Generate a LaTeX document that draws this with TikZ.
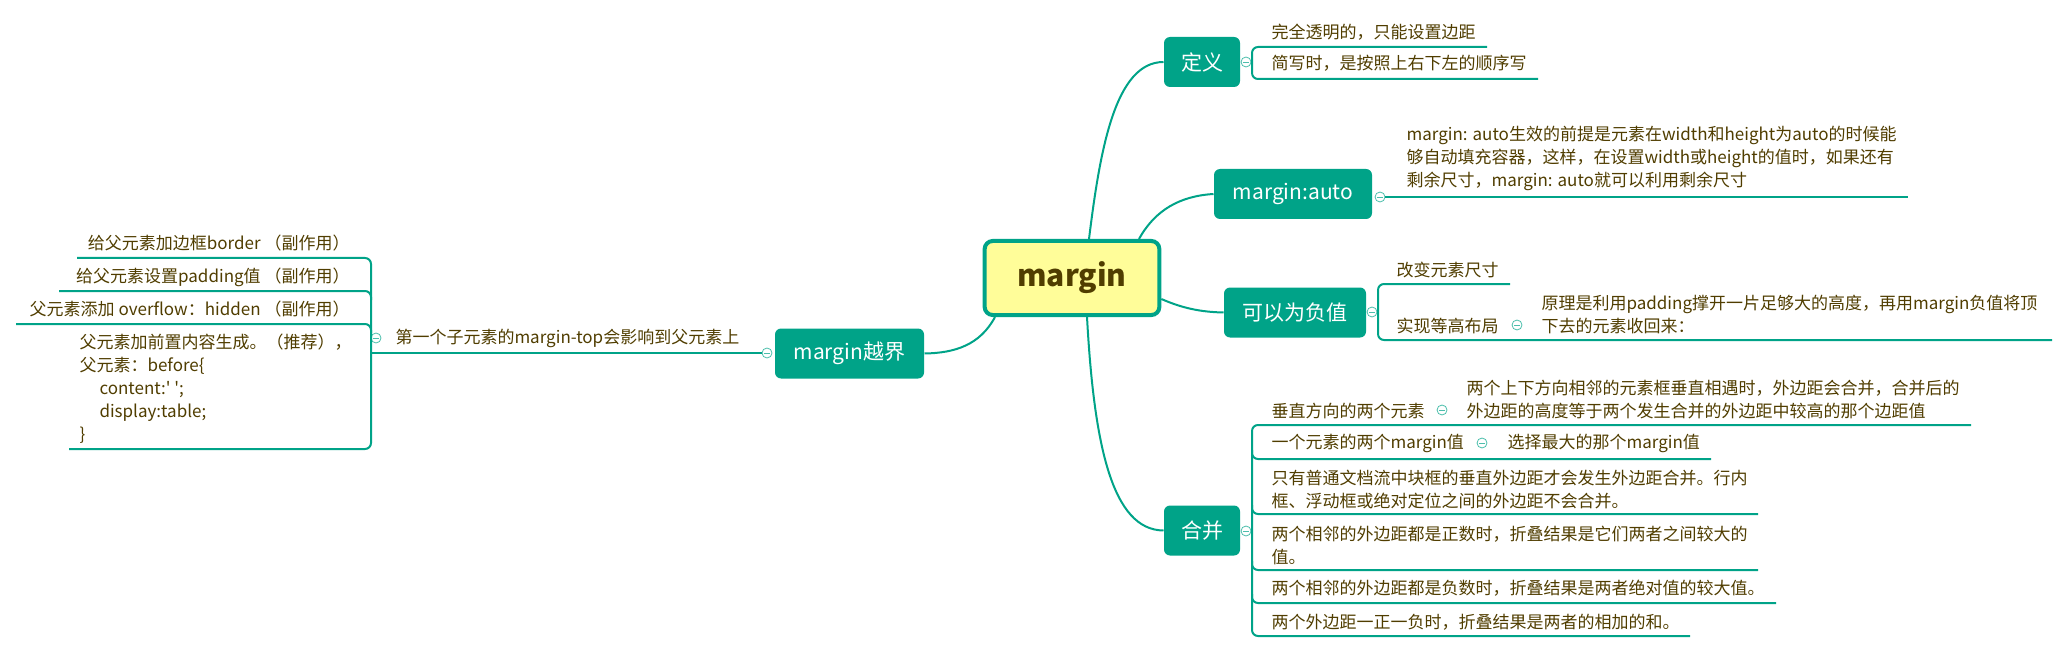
\documentclass[tikz,border=0pt]{standalone}
\usepackage{fontspec}
\setmainfont{Noto Sans CJK SC}

\definecolor{xmteal}{RGB}{0,163,136}
\definecolor{xmtext}{RGB}{80,61,0}
\definecolor{xmyellow}{RGB}{255,253,153}

\tikzset{every picture/.style={line width=0.75pt}}
\tikzset{
  topic/.style={fill=xmteal, text=white, rounded corners=4.5pt, minimum height=37.5pt, inner sep=0pt,
    font=\fontsize{15.75pt}{18pt}\selectfont},
  leaf/.style={text=xmtext, inner sep=0pt, align=left, font=\fontsize{12.75pt}{17.25pt}\selectfont},
  link/.style={draw=xmteal, line width=1.5pt},
  fold/.style={circle, draw=xmteal!70, fill=white, line width=0.6pt, minimum size=7.5pt, inner sep=0pt,
    path picture={\draw[xmteal!70, line width=0.6pt] ([xshift=-2.2pt]path picture bounding box.center) -- ([xshift=2.2pt]path picture bounding box.center);}},
}

\begin{document}
\begin{tikzpicture}[x=0.75pt,y=0.75pt,yscale=-1,xscale=1]
\useasboundingbox (0,0) rectangle (2069,652);

%Shape: central topic
\node[draw=xmteal, line width=3pt, fill=xmyellow, rounded corners=6pt, minimum width=131pt, minimum height=55.5pt,
  text=xmtext, font=\fontsize{22.5pt}{26pt}\selectfont\bfseries] (root) at (1072,278) {margin};

%Shape: main topics
\node[topic, minimum width=57pt] (def) at (1202,62) {定义};
\node[topic, minimum width=118.5pt] (auto) at (1293,194) {margin:auto};
\node[topic, minimum width=106.5pt] (neg) at (1295,312.5) {可以为负值};
\node[topic, minimum width=57pt] (merge) at (1202,530.5) {合并};
\node[topic, minimum width=111.75pt] (over) at (849.5,353.5) {margin越界};

%Curve Lines
\draw[link] (root.north -| 1089,0) .. controls (1100,150) and (1115,62) .. (def.west);
\draw[link] (root.north -| 1139,0) .. controls (1155,210) and (1180,196) .. (auto.west);
\draw[link] (root.east |- 0,299) .. controls (1182,308) and (1200,312) .. (neg.west);
\draw[link] (root.south -| 1087,0) .. controls (1094,445) and (1112,530) .. (merge.west);
\draw[link] (root.south -| 995,0) .. controls (980,345) and (955,353) .. (over.east);

%Shape: fold circles
\node[fold] (tdef) at (1246,62) {};
\node[fold] (tauto) at (1380,197) {};
\node[fold] (tneg) at (1372,312) {};
\node[fold] (tn2) at (1517,325) {};
\node[fold] (tmerge) at (1246,531) {};
\node[fold] (tm1) at (1442,410) {};
\node[fold] (tm2) at (1482,443) {};
\node[fold] (tb1) at (376,338) {};
\node[fold] (tover) at (767,353) {};

%Straight Lines: 定义
\draw[link, rounded corners=4.5pt] (1487,47) -- (1252,47) -- (1252,79) -- (1538,79);
% Text Node
\node[leaf, anchor=west] (d1) at (1271,32) {完全透明的，只能设置边距};
\node[leaf, anchor=west] (d2) at (1271,63) {简写时，是按照上右下左的顺序写};

%Straight Lines: margin:auto
\draw[link] (tauto) -- (1908,197);
% Text Node
\node[leaf, anchor=west] (a1) at (1406,158) {margin: auto生效的前提是元素在width和height为auto的时候能\\够自动填充容器，这样，在设置width或height的值时，如果还有\\剩余尺寸，margin: auto就可以利用剩余尺寸};

%Straight Lines: 可以为负值
\draw[link, rounded corners=4.5pt] (1510,284) -- (1378,284) -- (1378,340) -- (2052,340);
% Text Node
\node[leaf, anchor=west] (n1) at (1396,270) {改变元素尺寸};
\node[leaf, anchor=west] (n2) at (1396,326) {实现等高布局};
\node[leaf, anchor=west] (n3) at (1541,315) {原理是利用padding撑开一片足够大的高度，再用margin负值将顶\\下去的元素收回来：};

%Straight Lines: 合并
\draw[link, rounded corners=4.5pt] (1971,425) -- (1252,425) -- (1252,636) -- (1690,636);
\draw[link, rounded corners=4.5pt] (1252,450) -- (1252,459) -- (1711,459);
\draw[link, rounded corners=4.5pt] (1252,505) -- (1252,514) -- (1758,514);
\draw[link, rounded corners=4.5pt] (1252,561) -- (1252,570) -- (1758,570);
\draw[link, rounded corners=4.5pt] (1252,594) -- (1252,603) -- (1776,603);
% Text Node
\node[leaf, anchor=west] (m1) at (1271,411) {垂直方向的两个元素};
\node[leaf, anchor=west] (m1a) at (1466,400) {两个上下方向相邻的元素框垂直相遇时，外边距会合并，合并后的\\外边距的高度等于两个发生合并的外边距中较高的那个边距值};
\node[leaf, anchor=west] (m2) at (1271,443) {一个元素的两个margin值};
\node[leaf, anchor=west] (m2a) at (1507,443) {选择最大的那个margin值};
\node[leaf, anchor=west] (m3) at (1271,490) {只有普通文档流中块框的垂直外边距才会发生外边距合并。行内\\框、浮动框或绝对定位之间的外边距不会合并。};
\node[leaf, anchor=west] (m4) at (1271,545) {两个相邻的外边距都是正数时，折叠结果是它们两者之间较大的\\值。};
\node[leaf, anchor=west] (m5) at (1271,588) {两个相邻的外边距都是负数时，折叠结果是两者绝对值的较大值。};
\node[leaf, anchor=west] (m6) at (1271,622) {两个外边距一正一负时，折叠结果是两者的相加的和。};

%Straight Lines: margin越界
\draw[link] (tover) -- (371,353);
\draw[link, rounded corners=4.5pt] (77,258) -- (371,258) -- (371,449) -- (69,449);
\draw[link, rounded corners=4.5pt] (59,291) -- (371,291) -- (371,300);
\draw[link, rounded corners=4.5pt] (16,324) -- (371,324) -- (371,333);
% Text Node
\node[leaf, anchor=west] (b1) at (395,338) {第一个子元素的margin-top会影响到父元素上};
\node[leaf, anchor=east] (l1) at (350,243) {给父元素加边框border （副作用）};
\node[leaf, anchor=east] (l2) at (350,277) {给父元素设置padding值 （副作用）};
\node[leaf, anchor=east] (l3) at (350,309) {父元素添加 overflow：hidden （副作用）};
\node[leaf, anchor=west] (l4) at (79,388.5) {父元素加前置内容生成。（推荐），\\父元素：before\{\\\hspace*{15pt}content:\textquotesingle\ \textquotesingle;\\\hspace*{15pt}display:table;\\\}};

\end{tikzpicture}
\end{document}
